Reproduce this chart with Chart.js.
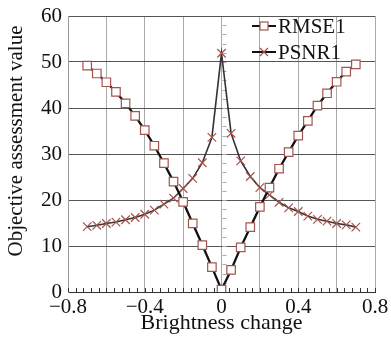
<!DOCTYPE html>
<html>
<head>
<meta charset="utf-8">
<script src="https://cdn.jsdelivr.net/npm/chart.js@4.4.0/dist/chart.umd.min.js"></script>
<style>
  html, body { margin: 0; padding: 0; background: #fff; }
  #wrap { width: 391px; height: 338px; }
</style>
</head>
<body>
<div id="wrap"><canvas id="chart" width="391" height="338"></canvas></div>
<script>
// brightness change (x) for every sample
const brightness = [-0.70, -0.65, -0.60, -0.55, -0.50, -0.45, -0.40, -0.35, -0.30, -0.25,
  -0.20, -0.15, -0.10, -0.05, 0.00, 0.05, 0.10, 0.15, 0.20, 0.25,
  0.30, 0.35, 0.40, 0.45, 0.50, 0.55, 0.60, 0.65, 0.70]

// series
const rmse1 = [49.2, 47.5, 45.6, 43.5, 41.0, 38.3, 35.2, 31.8, 28.0, 24.0,
  19.6, 14.9, 10.2, 5.4, 0.5, 4.8, 9.7, 14.1, 18.5, 22.7,
  26.8, 30.4, 34.0, 37.2, 40.5, 43.2, 45.7, 47.9, 49.5]
const psnr1 = [14.2, 14.5, 14.9, 15.2, 15.7, 16.2, 16.9, 17.8, 19.1, 20.4,
  22.5, 24.7, 28.1, 33.6, 51.9, 34.5, 28.5, 25.1, 22.7, 21.1,
  19.5, 18.3, 17.5, 16.5, 15.8, 15.4, 14.9, 14.6, 14.1]

// labelled ticks on x, everything else only gets a grid line
const xLabels = ["\u22120.8", "\u22120.4", "0", "0.4", "0.8"]
const xLabelValues = [-0.8, -0.4, 0, 0.4, 0.8]
const seriesNames = ["RMSE1", "PSNR1"]

const FONT = "Liberation Serif"
const MARK = "#a4544c"
Chart.defaults.font.family = FONT

// minor ticks, axis titles and the legend are drawn by hand
const decorations = {
  id: "decorations",
  beforeDatasetsDraw(chart) {
    const { ctx, chartArea, scales: { x, y } } = chart
    ctx.save()
    ctx.lineWidth = 1
    // small ticks along the bottom axis
    ctx.strokeStyle = "#333"
    for (let i = 0; i <= 40; i++) {
      const px = Math.round(x.getPixelForValue(-0.8 + i * 0.04)) + 0.5
      ctx.beginPath()
      ctx.moveTo(px, chartArea.bottom)
      ctx.lineTo(px, chartArea.bottom - 4)
      ctx.stroke()
    }
    // small ticks along the x = 0 line
    ctx.strokeStyle = "#aaa"
    const x0 = Math.round(x.getPixelForValue(0)) + 0.5
    for (let v = 2; v < 60; v += 2) {
      const py = Math.round(y.getPixelForValue(v)) + 0.5
      ctx.beginPath()
      ctx.moveTo(x0, py)
      ctx.lineTo(x0 + 4, py)
      ctx.stroke()
    }
    ctx.restore()
  },
  afterDraw(chart) {
    const { ctx, chartArea } = chart
    ctx.save()
    ctx.fillStyle = "#111"
    ctx.textAlign = "center"
    ctx.textBaseline = "middle"
    ctx.font = "22px '" + FONT + "'"
    ctx.fillText("Brightness change", (chartArea.left + chartArea.right) / 2, 323)
    ctx.save()
    ctx.translate(16, 141)
    ctx.rotate(-Math.PI / 2)
    ctx.font = "21px '" + FONT + "'"
    ctx.fillText("Objective assessment value", 0, 0)
    ctx.restore()

    // legend
    const rows = [26, 52]
    ctx.font = "21px '" + FONT + "'"
    ctx.textAlign = "left"
    rows.forEach((ry, i) => {
      ctx.strokeStyle = "#111"
      ctx.lineWidth = 2
      ctx.beginPath()
      ctx.moveTo(252, ry)
      ctx.lineTo(276, ry)
      ctx.stroke()
      ctx.strokeStyle = MARK
      ctx.lineWidth = 1.2
      if (i === 0) {
        ctx.fillStyle = "#fff"
        ctx.fillRect(260, ry - 4, 8, 8)
        ctx.strokeRect(260, ry - 4, 8, 8)
      } else {
        ctx.beginPath()
        ctx.moveTo(260, ry - 4); ctx.lineTo(268, ry + 4)
        ctx.moveTo(268, ry - 4); ctx.lineTo(260, ry + 4)
        ctx.stroke()
      }
      ctx.fillStyle = "#111"
      ctx.fillText(seriesNames[i], 278, ry + 1)
    })
    ctx.restore()
  }
}

new Chart(document.getElementById("chart"), {
  type: "line",
  data: {
    datasets: [
      {
        label: seriesNames[0],
        data: brightness.map((b, i) => ({ x: b, y: rmse1[i] })),
        borderColor: "#111",
        borderWidth: 2.3,
        pointStyle: "rect",
        pointRadius: 6,
        pointBackgroundColor: "#fff",
        pointBorderColor: MARK,
        pointBorderWidth: 1.2,
        tension: 0,
      },
      {
        label: seriesNames[1],
        data: brightness.map((b, i) => ({ x: b, y: psnr1[i] })),
        borderColor: "#333",
        borderWidth: 1.6,
        pointStyle: "crossRot",
        pointRadius: 6,
        pointBorderColor: MARK,
        pointBorderWidth: 1.2,
        tension: 0,
      },
    ],
  },
  options: {
    responsive: false,
    animation: false,
    layout: { padding: { top: 16, right: 16, left: 0, bottom: 0 } },
    plugins: { legend: { display: false }, tooltip: { enabled: false } },
    scales: {
      x: {
        type: "linear",
        min: -0.8,
        max: 0.8,
        grid: { color: "#aaa", drawTicks: false },
        border: { color: "#333", width: 1 },
        ticks: {
          stepSize: 0.2,
          autoSkip: false,
          maxRotation: 0,
          padding: 3,
          color: "#111",
          font: { family: FONT, size: 21 },
          callback: (v) => {
            const k = xLabelValues.findIndex(l => Math.abs(l - v) < 1e-6)
            return k >= 0 ? xLabels[k] : ""
          },
        },
        afterFit: (s) => { s.height = 46; s.paddingLeft = 0; s.paddingRight = 0 },
      },
      y: {
        min: 0,
        max: 60,
        grid: { color: "#555", drawTicks: false },
        border: { color: "#999", width: 1 },
        ticks: {
          stepSize: 10,
          padding: 6,
          color: "#111",
          font: { family: FONT, size: 21 },
        },
        afterFit: (s) => { s.width = 68; s.paddingTop = 0; s.paddingBottom = 0 },
      },
    },
  },
  plugins: [decorations],
})
</script>
</body>
</html>
